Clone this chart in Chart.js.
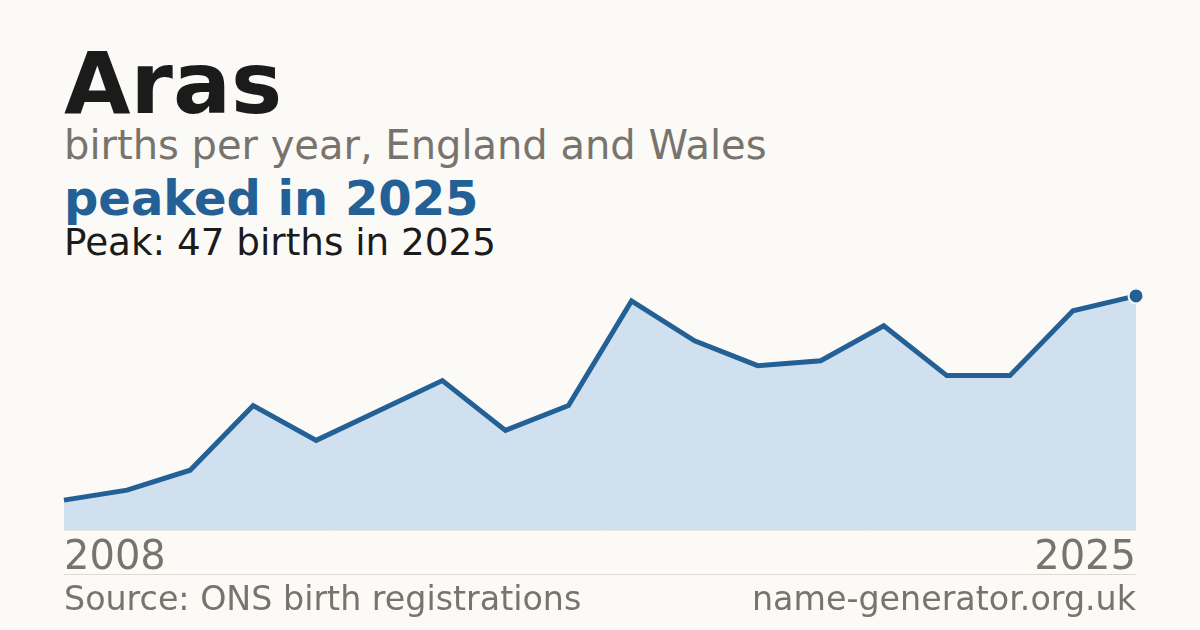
<!DOCTYPE html>
<html>
<head>
<meta charset="utf-8">
<script src="https://cdn.jsdelivr.net/npm/chart.js@4/dist/chart.umd.min.js"></script>
<style>
  html, body { margin: 0; padding: 0; }
  body { width: 1200px; height: 630px; background: #fbfaf6; position: relative; overflow: hidden;
         font-family: "DejaVu Sans", sans-serif; }
  .t { position: absolute; left: 64px; white-space: nowrap; }
  #name { top: 33px; font-size: 86px; font-weight: bold; color: #1b1b1b; }
  #sub { top: 122px; font-size: 40px; color: #78746d; }
  #peaked { top: 170px; font-size: 48px; font-weight: bold; color: #236096; }
  #peak { top: 220px; font-size: 37.3px; color: #1b1b1b; }
  #rule { position: absolute; left: 64px; width: 1072px; top: 574px; height: 1px; background: #dedad2; }
  .foot { position: absolute; top: 579px; font-size: 33.3px; color: #78746d; white-space: nowrap; }
  #src { left: 64px; }
  #site { right: 64px; }
  #wrap { position: absolute; left: 0; top: 270px; width: 1200px; height: 310px; }
  canvas { display: block; }
</style>
</head>
<body>
<div class="t" id="name">Aras</div>
<div class="t" id="sub">births per year, England and Wales</div>
<div class="t" id="peaked">peaked in 2025</div>
<div class="t" id="peak">Peak: 47 births in 2025</div>
<div id="wrap"><canvas id="chart" width="1200" height="310"></canvas></div>
<div id="rule"></div>
<div class="foot" id="src">Source: ONS birth registrations</div>
<div class="foot" id="site">name-generator.org.uk</div>
<script>
var years = ['2008','2009','2010','2011','2012','2013','2014','2015','2016',
             '2017','2018','2019','2020','2021','2022','2023','2024','2025'];
var births = [6, 8, 12, 25, 18, 24, 30, 20, 25, 46, 38, 33, 34, 41, 31, 31, 44, 47];
var yMax = 50;

// only the last point gets a marker
var radii = births.map(function(v, i) { return i == births.length - 1 ? 7.5 : 0; });

new Chart(document.getElementById('chart'), {
    type: 'line',
    data: {
        labels: years,
        datasets: [{
            data: births,
            borderColor: '#236096',
            borderWidth: 5,
            backgroundColor: '#d0e0ef',
            fill: 'origin',
            tension: 0,
            pointRadius: radii,
            pointBackgroundColor: '#236096',
            pointBorderColor: '#fbfaf6',
            pointBorderWidth: 2,
            clip: false
        }]
    },
    options: {
        responsive: false,
        animation: false,
        devicePixelRatio: 1,
        layout: { padding: { top: 11, left: 64, right: 64, bottom: 0 } },
        plugins: { legend: { display: false }, tooltip: { enabled: false } },
        scales: {
            x: {
                offset: false,
                grid: { display: false },
                border: { color: '#ebe4d8', width: 1 },
                afterFit: function(scale) { scale.height = 50; },
                ticks: {
                    autoSkip: false,
                    maxRotation: 0,
                    align: 'inner',
                    padding: 1,
                    color: '#78746d',
                    font: { family: 'DejaVu Sans', size: 40, lineHeight: 1 },
                    callback: function(v, i) {
                        return (i == 0 || i == years.length - 1) ? years[i] : '';
                    }
                }
            },
            y: { display: false, min: 0, max: yMax }
        }
    }
});
</script>
</body>
</html>
